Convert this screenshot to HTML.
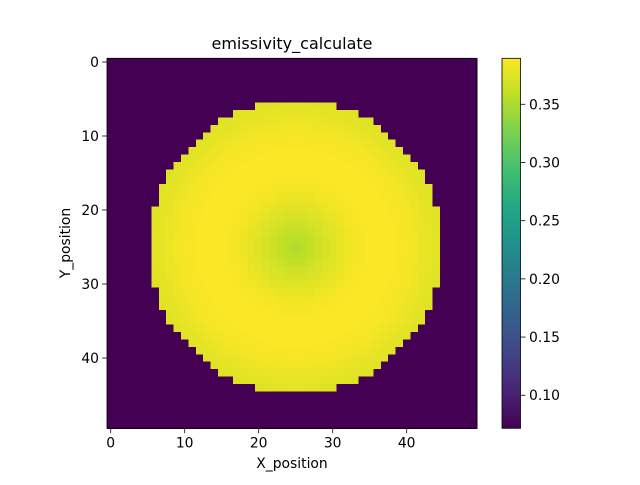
<!DOCTYPE html>
<html><head><meta charset="utf-8"><style>
html,body{margin:0;padding:0;background:#fff;}
svg text{font-family:"DejaVu Sans","Liberation Sans",sans-serif;fill:#000;}
</style></head><body>
<svg id="chart" width="640" height="480" viewBox="0 0 640 480" xmlns="http://www.w3.org/2000/svg">
<rect width="640" height="480" fill="#fff"/>
<text x="292" y="49" font-size="16" text-anchor="middle">emissivity_calculate</text>
<g id="cells" shape-rendering="crispEdges"></g>
<rect x="107" y="58.3" width="370" height="370" fill="none" stroke="#000" stroke-width="0.8"/>
<g id="xticks"></g>
<g id="yticks"></g>
<text x="292" y="468" font-size="13.9" text-anchor="middle">X_position</text>
<text x="0" y="0" font-size="13.9" text-anchor="middle" transform="translate(70,243) rotate(-90)">Y_position</text>
<defs><linearGradient id="vir" x1="0" y1="1" x2="0" y2="0"></linearGradient></defs>
<rect x="502" y="58.3" width="18.5" height="370" fill="url(#vir)" stroke="#000" stroke-width="0.8"/>
<g id="cticks"></g>
</svg>
<script>
const N = 50;
const centerRow = 25, centerCol = 25;
const radiusSquaredLimit = 390;
const background = [0.0716];
const radialProfile = [0.352,0.355,0.360,0.365,0.370,0.374,0.378,0.382,0.385,0.387,0.388,0.389,0.389,0.388,0.387,0.386,0.384,0.381,0.378,0.376,0.374];
const vmin = 0.0716, vmax = 0.3895;
const xTickVals = [0,10,20,30,40];
const yTickVals = [0,10,20,30,40];
const cTickVals = [0.10,0.15,0.20,0.25,0.30,0.35];
const vStops = ["#440154","#482475","#414487","#355f8d","#2a788e","#21918c","#22a884","#44bf70","#7ad151","#bddf26","#fde725"];
const NS="http://www.w3.org/2000/svg";
const X0=107, Y0=58.3, W=370, H=370, cell=W/N;
function xScale(c){return X0+(c+0.5)*cell;}
function yScale(r){return Y0+(r+0.5)*cell;}
function hex(h){return [1,3,5].map(i=>parseInt(h.substr(i,2),16));}
function viridis(t){t=Math.max(0,Math.min(1,t));const p=t*10,i=Math.min(9,Math.floor(p)),f=p-i;const a=hex(vStops[i]),b=hex(vStops[i+1]);return "rgb("+a.map((v,k)=>Math.round(v+(b[k]-v)*f)).join(",")+")";}
function cScale(v){return Y0+H-(v-vmin)/(vmax-vmin)*H;}
function valueAt(r,c){const d2=(r-centerRow)**2+(c-centerCol)**2;if(d2>radiusSquaredLimit)return background[0];const d=Math.sqrt(d2),i=Math.floor(d),f=d-i;const a=radialProfile[i],b=radialProfile[Math.min(i+1,radialProfile.length-1)];return a+(b-a)*f;}
const g=document.getElementById('cells');
for(let r=0;r<N;r++)for(let c=0;c<N;c++){
 const el=document.createElementNS(NS,'rect');
 
 
 el.setAttribute('x',(xScale(c)-cell/2).toFixed(2));el.setAttribute('y',(yScale(r)-cell/2).toFixed(2));
 el.setAttribute('width',(cell+0.6).toFixed(2));el.setAttribute('height',(cell+0.6).toFixed(2));
 el.setAttribute('fill',viridis((valueAt(r,c)-vmin)/(vmax-vmin)));g.appendChild(el);}
const gx=document.getElementById('xticks');
xTickVals.forEach(v=>{const x=xScale(v);
 const l=document.createElementNS(NS,'line');
 
 
 l.setAttribute('x1',x);l.setAttribute('x2',x);l.setAttribute('y1',Y0+H);l.setAttribute('y2',Y0+H+4.9);l.setAttribute('stroke','#000');l.setAttribute('stroke-width','0.8');gx.appendChild(l);
 const t=document.createElementNS(NS,'text');
 
 
 t.setAttribute('x',x);t.setAttribute('y',Y0+H+19);t.setAttribute('font-size','13.9');t.setAttribute('text-anchor','middle');t.textContent=v;gx.appendChild(t);});
const gy=document.getElementById('yticks');
yTickVals.forEach(v=>{const y=yScale(v);
 const l=document.createElementNS(NS,'line');
 
 
 l.setAttribute('x1',X0-4.9);l.setAttribute('x2',X0);l.setAttribute('y1',y);l.setAttribute('y2',y);l.setAttribute('stroke','#000');l.setAttribute('stroke-width','0.8');gy.appendChild(l);
 const t=document.createElementNS(NS,'text');
 
 
 t.setAttribute('x',X0-8);t.setAttribute('y',y+5);t.setAttribute('font-size','13.9');t.setAttribute('text-anchor','end');t.textContent=v;gy.appendChild(t);});
const grad=document.getElementById('vir');
vStops.forEach((s,i)=>{const st=document.createElementNS(NS,'stop');st.setAttribute('offset',i/10);st.setAttribute('stop-color',s);grad.appendChild(st);});
const gc=document.getElementById('cticks');
cTickVals.forEach(v=>{const y=cScale(v);
 const l=document.createElementNS(NS,'line');
 
 
 l.setAttribute('x1',520.5);l.setAttribute('x2',525.4);l.setAttribute('y1',y);l.setAttribute('y2',y);l.setAttribute('stroke','#000');l.setAttribute('stroke-width','0.8');gc.appendChild(l);
 const t=document.createElementNS(NS,'text');
 
 
 t.setAttribute('x',529);t.setAttribute('y',y+5);t.setAttribute('font-size','13.9');t.textContent=v.toFixed(2);gc.appendChild(t);});
</script>
</body></html>
